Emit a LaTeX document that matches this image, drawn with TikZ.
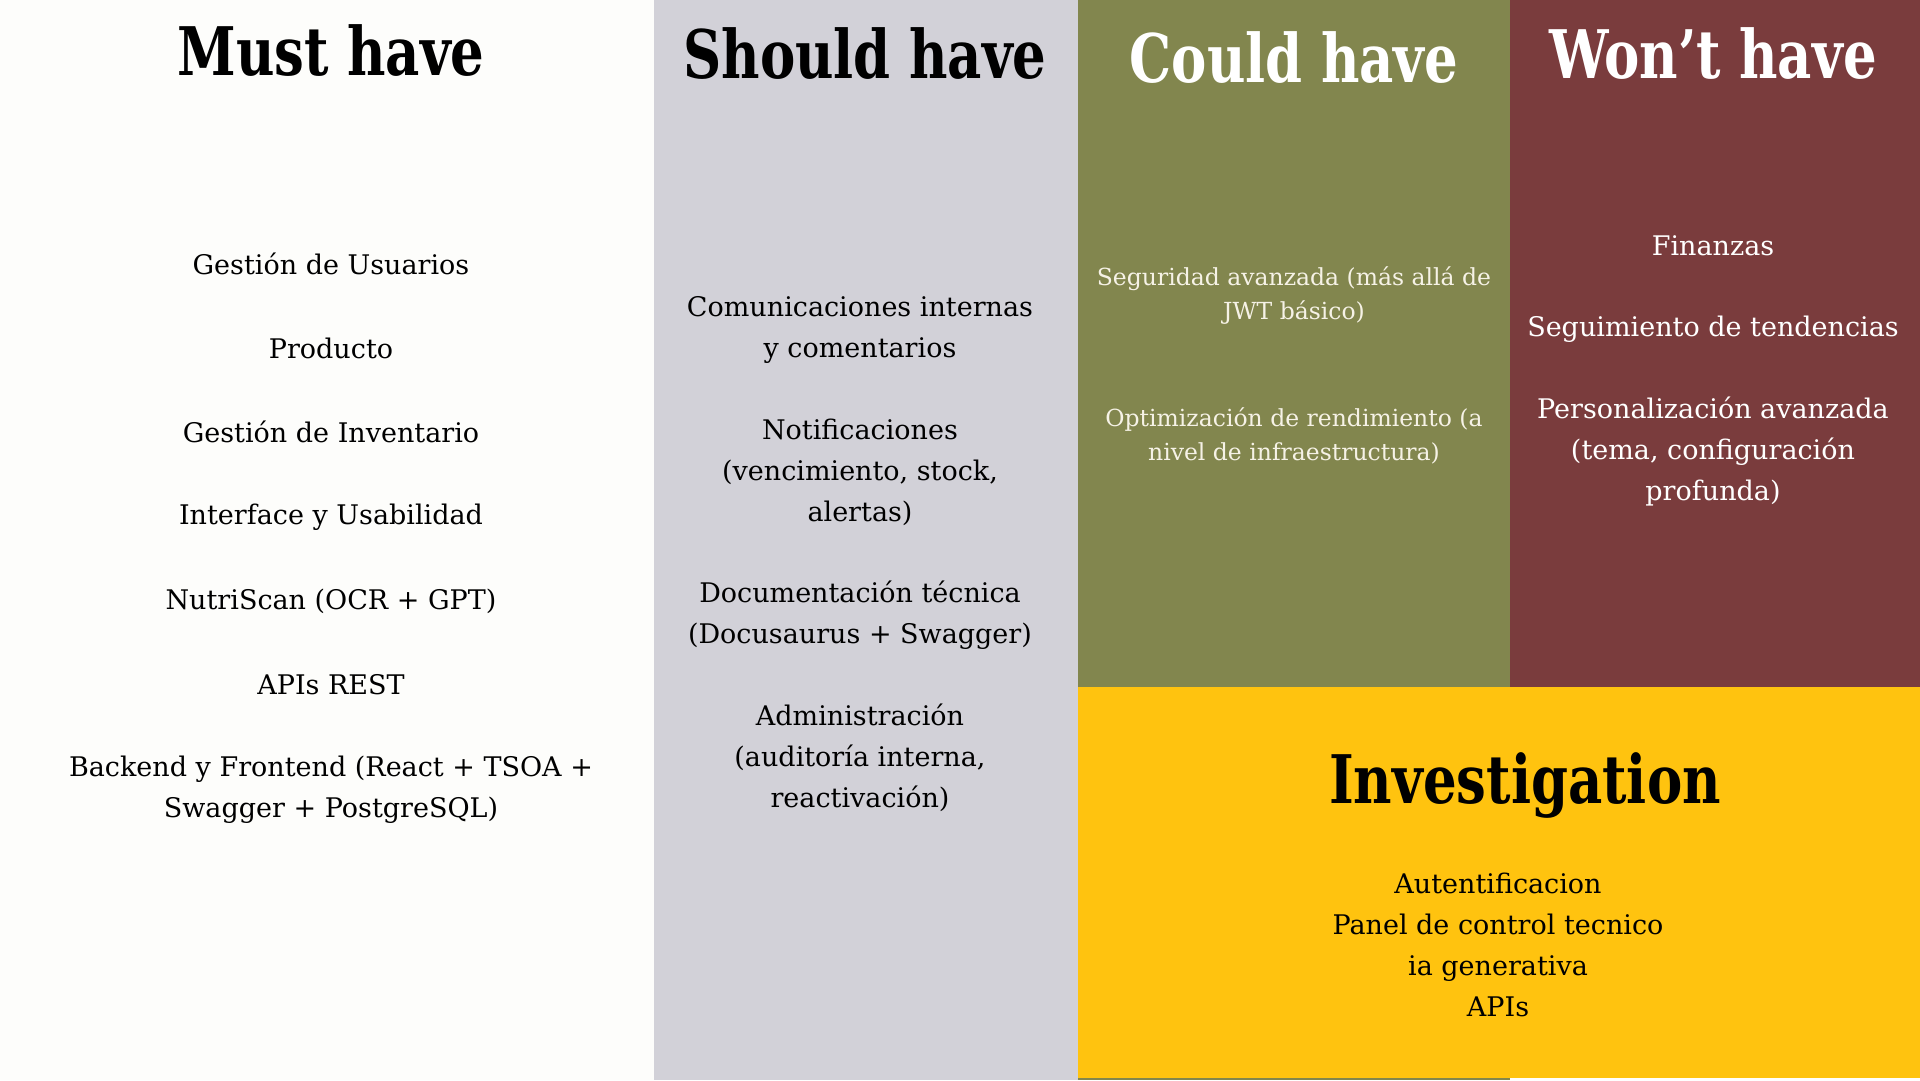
\documentclass[tikz,border=0pt]{standalone}
\usepackage{fontspec}
\setmainfont{DejaVu Serif}
\newfontfamily\headfont[FakeStretch=0.79]{DejaVu Serif}

\definecolor{mustbg}{HTML}{FDFDFB}
\definecolor{shouldbg}{HTML}{D2D1D8}
\definecolor{couldbg}{HTML}{82864E}
\definecolor{wontbg}{HTML}{7A3C3D}
\definecolor{invbg}{HTML}{FFC30F}
\definecolor{lighttext}{HTML}{F6F2E6}

\begin{document}
\begin{tikzpicture}[x=1pt,y=-1pt,
  head/.style={font=\headfont\bfseries\fontsize{67}{80}\selectfont, inner sep=0pt},
  item/.style={font=\fontsize{27}{41}\selectfont, align=center, inner sep=0pt},
  smallitem/.style={font=\fontsize{23.5}{34}\selectfont, align=center, inner sep=0pt, text=lighttext}]
\useasboundingbox (0,0) rectangle (1920,1080);

% column backgrounds
\fill[mustbg]   (0,0)    rectangle (654,1080);
\fill[shouldbg] (654,0)  rectangle (1078,1080);
\fill[couldbg]  (1078,0) rectangle (1510,1080);
\fill[wontbg]   (1510,0) rectangle (1920,687);
\fill[invbg]    (1078,687) rectangle (1920,1078);

% headings
\node[head] (hmust)   at (331,51)  {Must have};
\node[head] (hshould) at (865,54)  {Should have};
\node[head, text=white] (hcould) at (1294,58) {Could have};
\node[head, text=white] (hwont)  at (1713,54) {Won’t have};
\node[head] (hinv)    at (1525,785) {Investigation};

% Must have
\node[item] (m1) at (331,264) {Gestión de Usuarios};
\node[item] (m2) at (331,348) {Producto};
\node[item] (m3) at (331,432) {Gestión de Inventario};
\node[item] (m4) at (331,517) {Interface y Usabilidad};
\node[item] (m5) at (331,601) {NutriScan (OCR + GPT)};
\node[item] (m6) at (331,685) {APIs REST};
\node[item] (m7) at (331,790) {Backend y Frontend (React + TSOA +\\Swagger + PostgreSQL)};

% Should have
\node[item] (s1) at (860,330) {Comunicaciones internas\\y comentarios};
\node[item] (s2) at (860,472) {Notificaciones\\(vencimiento, stock,\\alertas)};
\node[item] (s3) at (860,615) {Documentación técnica\\(Docusaurus + Swagger)};
\node[item] (s4) at (860,758) {Administración\\(auditoría interna,\\reactivación)};

% Could have
\node[smallitem] (c1) at (1294,296) {Seguridad avanzada (más allá de\\JWT básico)};
\node[smallitem] (c2) at (1294,436) {Optimización de rendimiento (a\\nivel de infraestructura)};

% Won't have
\node[item, text=white] (w1) at (1713,246) {Finanzas};
\node[item, text=white] (w2) at (1713,329) {Seguimiento de tendencias};
\node[item, text=white] (w3) at (1713,452) {Personalización avanzada\\(tema, configuración\\profunda)};

% Investigation
\node[item] (i1) at (1498,945) {Autentificacion\\Panel de control tecnico\\ia generativa\\APIs};
\end{tikzpicture}
\end{document}
